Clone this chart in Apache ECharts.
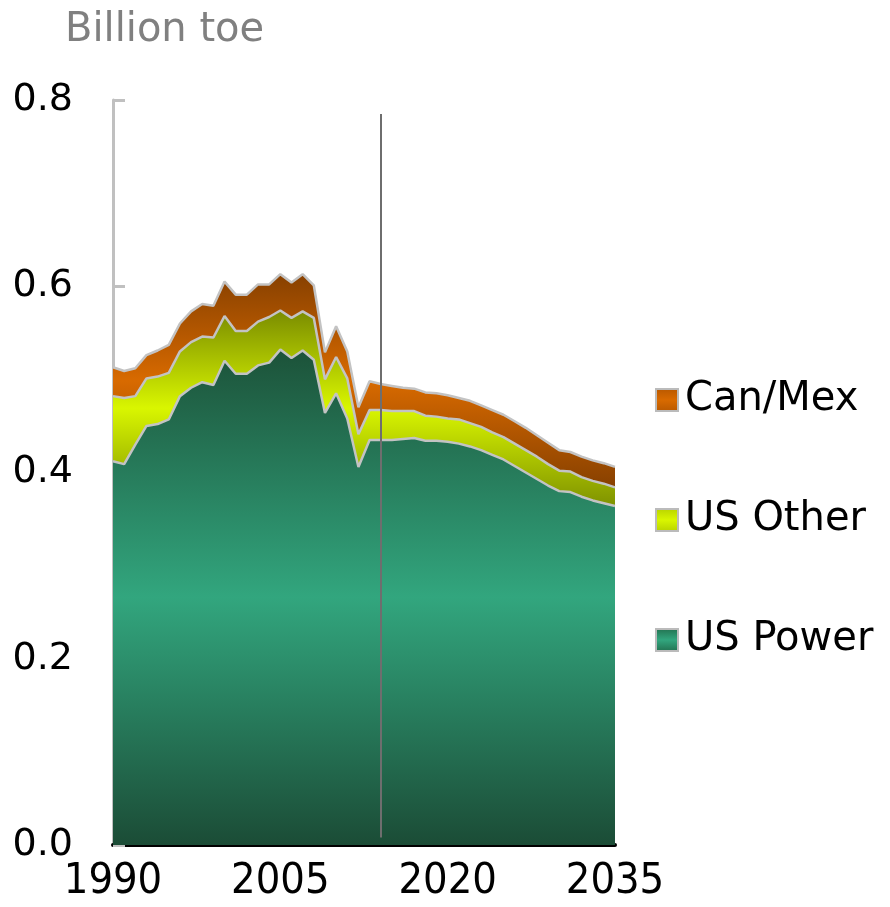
<!DOCTYPE html>
<html><head><meta charset="utf-8">
<script src="https://cdn.jsdelivr.net/npm/echarts@6/dist/echarts.min.js"></script>
<style>html,body{margin:0;padding:0;background:#fff}#c{width:890px;height:907px}</style>
</head><body><div id="c"></div>
<script>
const years = [1990,1991,1992,1993,1994,1995,1996,1997,1998,1999,2000,2001,2002,2003,2004,2005,2006,2007,2008,2009,2010,2011,2012,2013,2014,2015,2016,2017,2018,2019,2020,2021,2022,2023,2024,2025,2026,2027,2028,2029,2030,2031,2032,2033,2034,2035].map(String);
const usPower = [0.412,0.409,0.430,0.450,0.452,0.457,0.482,0.491,0.497,0.494,0.520,0.506,0.506,0.515,0.518,0.532,0.523,0.531,0.521,0.464,0.485,0.458,0.406,0.435,
  0.435,0.435,0.436,0.437,0.434,0.434,0.433,0.431,0.428,0.424,0.419,0.414,0.407,0.400,0.393,0.386,0.380,0.379,0.374,0.370,0.367,0.364];
const usOther = [0.070,0.071,0.052,0.051,0.051,0.050,0.048,0.049,0.049,0.051,0.048,0.046,0.046,0.047,0.049,0.042,0.043,0.042,0.045,0.036,0.039,0.043,0.035,0.032,
  0.032,0.031,0.030,0.029,0.027,0.026,0.025,0.026,0.025,0.025,0.024,0.024,0.024,0.024,0.024,0.023,0.022,0.022,0.021,0.021,0.021,0.020];
const canMex = [0.031,0.029,0.030,0.025,0.028,0.030,0.030,0.033,0.035,0.034,0.037,0.039,0.039,0.040,0.035,0.039,0.038,0.040,0.035,0.029,0.033,0.029,0.029,0.031,
  0.028,0.027,0.025,0.024,0.025,0.025,0.025,0.023,0.024,0.023,0.024,0.024,0.024,0.024,0.023,0.023,0.022,0.021,0.022,0.022,0.022,0.022];
const yTicks = [0, 0.2, 0.4, 0.6, 0.8];
const dividerYear = '2014';
const seriesNames = ['US Power','US Other','Can/Mex'];

const FONT = 'DejaVu Sans';
const grad = (a,b,c) => new echarts.graphic.LinearGradient(0,0,0,1,[{offset:0,color:a},{offset:0.5,color:b},{offset:1,color:c}]);
const fills = [
  grad('#1c5239','#32a67e','#1b4c36'),
  grad('#7a8c00','#d9f600','#7f9200'),
  grad('#874000','#d86a00','#874000')
];
const legendFills = [
  grad('#22704f','#32a67e','#22704f'),
  grad('#b8d200','#d9f600','#b8d200'),
  grad('#b85800','#d86a00','#b85800')
];
const dataSets = [usPower, usOther, canMex];

const series = [];
dataSets.forEach((d,i) => {
  series.push({
    name: seriesNames[i], type:'line', stack:'area', data:d, symbol:'none',
    lineStyle:{width:0}, areaStyle:{color:fills[i], opacity:1}, itemStyle:{color:fills[i]},
    z:2
  });
});
dataSets.forEach((d,i) => {
  series.push({
    name: seriesNames[i]+'_edge', type:'line', stack:'edge', data:d, symbol:'none',
    lineStyle:{width:2.5, color:'#c3c3c3'}, z:3, silent:true
  });
});
series[0].markLine = {
  silent:true, symbol:'none', label:{show:false},
  lineStyle:{color:'#6e6e6e', width:2, type:'solid'},
  data:[[{coord:[dividerYear,0.008]},{coord:[dividerYear,0.785]}]]
};
series[0].markLine.z = 5;

const chart = echarts.init(document.getElementById('c'));
chart.setOption({
  animation:false,
  backgroundColor:'#fff',
  title:{text:'Billion toe', left:60, top:6, textStyle:{fontFamily:FONT, fontSize:40, fontWeight:'normal', color:'#808080'}},
  legend:{
    orient:'vertical', left:650, top:375, itemWidth:22, itemHeight:22, itemGap:80, icon:'rect',
    textStyle:{fontFamily:FONT, fontSize:40, color:'#000', lineHeight:40, padding:[0,0,0,2]},
    data:[
      {name:'Can/Mex', itemStyle:{color:legendFills[2], borderColor:'#bbb', borderWidth:2}},
      {name:'US Other', itemStyle:{color:legendFills[1], borderColor:'#bbb', borderWidth:2}},
      {name:'US Power', itemStyle:{color:legendFills[0], borderColor:'#bbb', borderWidth:2}}
    ]
  },
  grid:{left:113, right:275, top:100, bottom:62, containLabel:false},
  xAxis:{
    type:'category', data:years, boundaryGap:false,
    axisLine:{lineStyle:{color:'#000', width:4}},
    axisTick:{show:false},
    axisLabel:{interval:14, fontFamily:'"DejaVu Sans Condensed", "DejaVu Sans", sans-serif', fontSize:43, color:'#000', margin:15},
    splitLine:{show:false}
  },
  yAxis:{
    type:'value', min:yTicks[0], max:yTicks[yTicks.length-1], interval:0.2,
    axisLine:{show:true, lineStyle:{color:'#c0c0c0', width:3}},
    axisTick:{show:true, inside:true, length:12, lineStyle:{color:'#c0c0c0', width:3}},
    axisLabel:{fontFamily:FONT, fontSize:38, color:'#000', margin:40, formatter:v=>v.toFixed(1)},
    splitLine:{show:false}
  },
  series:series
});
</script>
</body></html>
